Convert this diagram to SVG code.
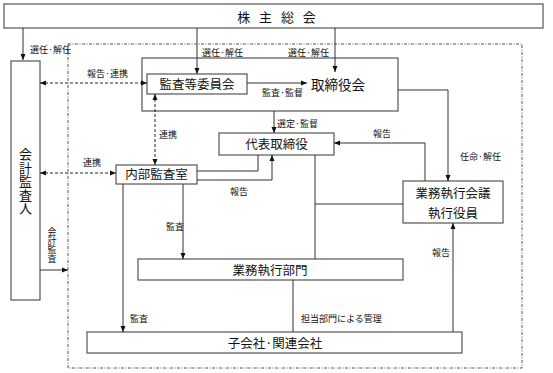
<svg xmlns="http://www.w3.org/2000/svg" width="553" height="373" viewBox="0 0 553 373">
<style>
.box{fill:#fff;stroke:#555;stroke-width:1.2}
.ln{fill:none;stroke:#333;stroke-width:1}
.dsh{fill:none;stroke:#222;stroke-width:1;stroke-dasharray:3,2}
.bd{fill:none;stroke:#444;stroke-width:0.9;stroke-dasharray:3,1.5,1,1.5}
.t{font-family:"Noto Sans CJK JP","Noto Sans CJK SC",sans-serif;fill:#111}
.n{font-size:12.5px;text-anchor:middle}
.l{font-size:9px}
.v{writing-mode:vertical-rl}
</style>
<defs>
<marker id="a" markerWidth="6" markerHeight="6" refX="6" refY="3" orient="auto-start-reverse" markerUnits="userSpaceOnUse">
<path d="M0,0.5 L6,3 L0,5.5 z" fill="#111"/>
</marker>
</defs>
<rect class="bd" x="68" y="44" width="454" height="324"/>
<g id="n-kabunushi"><rect class="box" x="4" y="4" width="539" height="24"/>
<text class="t" x="278" y="22" font-size="13" text-anchor="middle" letter-spacing="3">株 主 総 会</text></g>
<g id="n-torishimari"><rect class="box" x="142" y="58" width="256" height="53"/>
<text class="t" x="311" y="90" font-size="13.5">取締役会</text></g>
<g id="n-kansa"><rect class="box" x="147" y="74" width="100" height="20"/>
<text class="t n" x="197" y="88.5" font-size="12">監査等委員会</text></g>
<g id="n-daihyo"><rect class="box" x="219" y="133" width="115" height="22"/>
<text class="t n" x="276.5" y="149" font-size="13">代表取締役</text></g>
<g id="n-naibu"><rect class="box" x="116" y="165" width="81" height="19"/>
<text class="t n" x="156.5" y="179.3" font-size="11.5">内部監査室</text></g>
<g id="n-gyomukaigi"><rect class="box" x="403" y="181" width="100" height="42"/>
<text class="t n" x="453" y="197.7">業務執行会議</text>
<text class="t n" x="453" y="218.4" font-size="11.5">執行役員</text></g>
<g id="n-gyomubumon"><rect class="box" x="138" y="259" width="265" height="21"/>
<text class="t n" x="270" y="274.7">業務執行部門</text></g>
<g id="n-kogaisha"><rect class="box" x="87" y="332" width="375" height="21"/>
<text class="t n" x="275" y="347.7">子会社·関連会社</text></g>
<g id="n-kaikei"><rect class="box" x="11" y="61" width="29" height="239"/>
<text class="t v" x="25.5" y="148" font-size="13" letter-spacing="0.4">会計監査人</text></g>
<g id="connectors">
<path class="ln" d="M23,28 V60" marker-end="url(#a)"/>
<path class="ln" d="M197,28 V74" marker-end="url(#a)"/>
<path class="ln" d="M335,28 V72" marker-end="url(#a)"/>
<path class="ln" d="M247,83 H307" marker-end="url(#a)"/>
<path class="ln" d="M274,111 V133" marker-end="url(#a)"/>
<path class="ln" d="M398,90 H448 V181" marker-end="url(#a)"/>
<path class="ln" d="M425,181 V143 H334" marker-end="url(#a)"/>
<path class="ln" d="M315,155 V259 M315,204 H403"/>
<path class="ln" d="M258,155 V171 H197"/>
<path class="ln" d="M197,180 H272 V155" marker-end="url(#a)"/>
<path class="ln" d="M183,184 V259" marker-end="url(#a)"/>
<path class="ln" d="M123,184 V332" marker-end="url(#a)"/>
<path class="ln" d="M293,280 V332"/>
<path class="ln" d="M453,332 V223" marker-end="url(#a)"/>
<path class="dsh" d="M40,83 H147" marker-start="url(#a)" marker-end="url(#a)"/>
<path class="dsh" d="M40,173 H116" marker-start="url(#a)" marker-end="url(#a)"/>
<path class="dsh" d="M155,94 V165" stroke-dasharray="2,1.5" marker-start="url(#a)" marker-end="url(#a)"/>
<path class="ln" d="M40,270 H68" marker-end="url(#a)"/>
</g>
<g id="labels" class="t l">
<text x="30" y="53.4">選任·解任</text>
<text x="202" y="56.4">選任·解任</text>
<text x="288" y="56.4">選任·解任</text>
<text x="87" y="77.4">報告·連携</text>
<text x="262" y="96.4">監査·監督</text>
<text x="277" y="127.4">選定·監督</text>
<text x="373" y="137.4">報告</text>
<text x="460" y="160.4">任命·解任</text>
<text x="159" y="138.4">連携</text>
<text x="83" y="166.4">連携</text>
<text x="230" y="195.4">報告</text>
<text x="166" y="230.4">監査</text>
<text x="130" y="322.4">監査</text>
<text x="301" y="322.4">担当部門による管理</text>
<text x="432" y="256.4">報告</text>
<text class="v" x="52" y="227">会計監査</text>
</g>
</svg>
